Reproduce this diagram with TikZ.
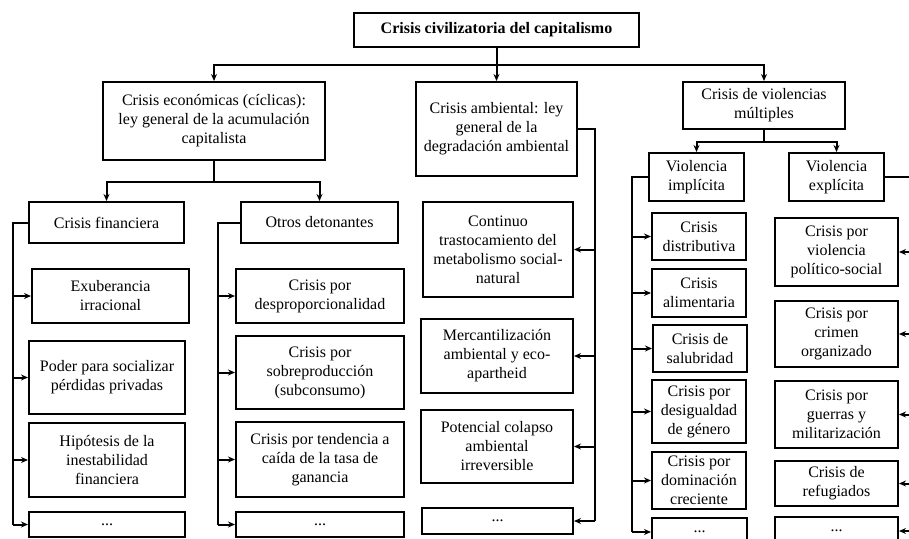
\documentclass[tikz,border=0pt]{standalone}
\usepackage{fontspec}
\setmainfont{Liberation Serif}
\usetikzlibrary{arrows.meta}

\begin{document}
\begin{tikzpicture}[
		x=1pt, y=-1pt,
		line width=2pt,
		>={Stealth[length=7pt,width=6pt]},
		every node/.style={font=\fontsize{16}{19}\selectfont},
		box/.style 2 args={draw, align=center, inner sep=0pt, minimum width=#1, minimum height=#2}
	]
		\useasboundingbox (0,0) rectangle (909,538);

		% Main levels
		\node[box={285}{34}, font=\fontsize{16}{19}\selectfont\bfseries] (top) at (496.5,30) {Crisis civilizatoria del capitalismo};
		\node[box={222}{78}] (econ) at (214,121) {Crisis económicas (cíclicas):\\ ley general de la acumulación\\ capitalista};
		\node[box={161}{94}] (amb) at (496.5,129) {Crisis ambiental: ley\\ general de la\\ degradación ambiental};
		\node[box={162}{47}] (viol) at (764,105.5) {Crisis de violencias\\ múltiples};

		% Economic crises
		\node[box={155}{41}] (fin) at (106.5,222.5) {Crisis financiera};
		\node[box={157}{41}] (otros) at (319.5,222.5) {Otros detonantes};
		\node[box={157}{54}] (f1) at (110.5,296) {Exuberancia\\ irracional};
		\node[box={156}{73}] (f2) at (107,377.5) {Poder para socializar\\ pérdidas privadas};
		\node[box={156}{74}] (f3) at (107,460) {Hipótesis de la\\ inestabilidad\\ financiera};
		\node[box={156}{25}] (f4) at (107,524.5) {...};
		\node[box={168}{54}] (o1) at (320,296) {Crisis por\\ desproporcionalidad};
		\node[box={168}{73}] (o2) at (320,372.5) {Crisis por\\ sobreproducción\\ (subconsumo)};
		\node[box={168}{75}] (o3) at (320,459.5) {Crisis por tendencia a\\ caída de la tasa de\\ ganancia};
		\node[box={168}{25}] (o4) at (320,524.5) {...};

		% Environmental crisis
		\node[box={150}{95}] (a1) at (498,249.5) {Continuo\\ trastocamiento del\\ metabolismo social-\\ natural};
		\node[box={152}{74}] (a2) at (497,356) {Mercantilización\\ ambiental y eco-\\ apartheid};
		\node[box={152}{73}] (a3) at (497,446.5) {Potencial colapso\\ ambiental\\ irreversible};
		\node[box={151}{26}] (a4) at (497.5,521) {...};

		% Violences
		\node[box={95}{48}] (imp) at (696.5,177) {Violencia\\ implícita};
		\node[box={95}{48}] (exp) at (836.5,177) {Violencia\\ explícita};
		\node[box={94}{47}] (i1) at (699,236.5) {Crisis\\ distributiva};
		\node[box={94}{48}] (i2) at (699,293) {Crisis\\ alimentaria};
		\node[box={94}{47}] (i3) at (700,348.5) {Crisis de\\ salubridad};
		\node[box={94}{63}] (i4) at (699,411.5) {Crisis por\\ desigualdad\\ de género};
		\node[box={94}{57}] (i5) at (699,480.5) {Crisis por\\ dominación\\ creciente};
		\node[box={95}{28}] (i6) at (699.5,532) {...};
		\node[box={123}{68}] (e1) at (836.5,252) {Crisis por\\ violencia\\ político-social};
		\node[box={123}{66}] (e2) at (836.5,334) {Crisis por\\ crimen\\ organizado};
		\node[box={123}{67}] (e3) at (836.5,414.5) {Crisis por\\ guerras y\\ militarización};
		\node[box={123}{45}] (e4) at (836.5,483.5) {Crisis de\\ refugiados};
		\node[box={123}{28}] (e5) at (836.5,531) {...};

		% Junctions
		\coordinate (hub) at (496.5,65);
		\coordinate (ehub) at (214,182);
		\coordinate (vhub) at (764,142);
		\coordinate (fbus) at (13,222.5);
		\coordinate (obus) at (218,222.5);
		\coordinate (abus) at (595,129);
		\coordinate (ibus) at (632,177);
		\coordinate (xbus) at (912,177);

		% Connectors
		\draw (top) -- (hub);
		\draw[->] (hub) -| (econ);
		\draw[->] (hub) -- (amb);
		\draw[->] (hub) -| (viol);

		\draw (econ) -- (ehub);
		\draw[->] (ehub) -| (fin);
		\draw[->] (ehub) -| (otros);

		\draw (fin) -- (fbus) -- (fbus |- f4);
		\draw[->] (fbus |- f1) -- (f1);
		\draw[->] (fbus |- f2) -- (f2);
		\draw[->] (fbus |- f3) -- (f3);
		\draw[->] (fbus |- f4) -- (f4);

		\draw (otros) -- (obus) -- (obus |- o4);
		\draw[->] (obus |- o1) -- (o1);
		\draw[->] (obus |- o2) -- (o2);
		\draw[->] (obus |- o3) -- (o3);
		\draw[->] (obus |- o4) -- (o4);

		\draw (amb) -- (abus) -- (abus |- a4);
		\draw[->] (abus |- a1) -- (a1);
		\draw[->] (abus |- a2) -- (a2);
		\draw[->] (abus |- a3) -- (a3);
		\draw[->] (abus |- a4) -- (a4);

		\draw (viol) -- (vhub);
		\draw[->] (vhub) -| (imp);
		\draw[->] (vhub) -| (exp);

		\draw (imp) -- (ibus) -- (ibus |- i6);
		\draw[->] (ibus |- i1) -- (i1);
		\draw[->] (ibus |- i2) -- (i2);
		\draw[->] (ibus |- i3) -- (i3);
		\draw[->] (ibus |- i4) -- (i4);
		\draw[->] (ibus |- i5) -- (i5);
		\draw[->] (ibus |- i6) -- (i6);

		\draw (exp) -- (xbus) -- (xbus |- e5);
		\draw[->] (xbus |- e1) -- (e1);
		\draw[->] (xbus |- e2) -- (e2);
		\draw[->] (xbus |- e3) -- (e3);
		\draw[->] (xbus |- e4) -- (e4);
		\draw[->] (xbus |- e5) -- (e5);
	\end{tikzpicture}
\end{document}
